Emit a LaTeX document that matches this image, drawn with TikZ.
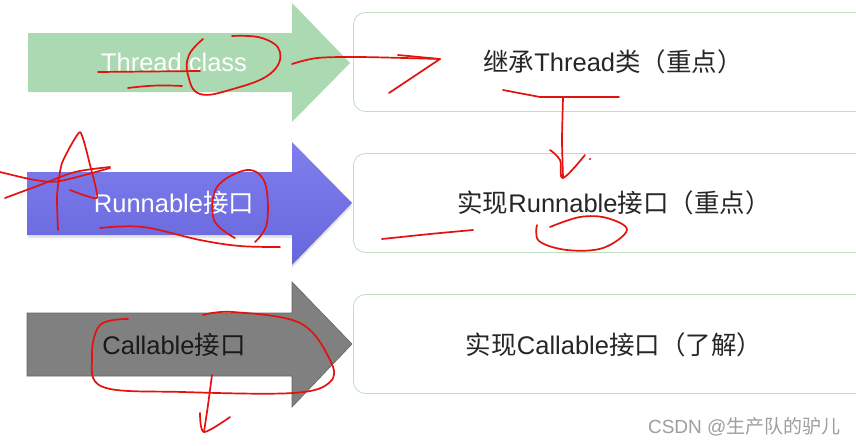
\documentclass[tikz,border=0pt]{standalone}
\usepackage{fontspec}
\setmainfont{Liberation Sans}
\newfontfamily\cjk{Noto Sans CJK SC}
\usetikzlibrary{positioning}

\definecolor{thrgreen}{HTML}{ABD9B1}
\definecolor{runtop}{HTML}{7E7EEE}
\definecolor{runbot}{HTML}{6767DC}
\definecolor{calgray}{HTML}{808080}
\definecolor{boxline}{HTML}{BEDFC3}
\definecolor{inkred}{HTML}{E3120F}

\tikzset{
	infobox/.style={draw=boxline, line width=0.8pt, rounded corners=12pt, fill=white, minimum width=540pt, minimum height=99pt, inner sep=0pt, anchor=west},
	boxtext/.style={font=\fontsize{25.5}{28}\selectfont, text=black!85},
	arrowtext/.style={font=\fontsize{25.5}{28}\selectfont},
	scribble/.style={draw=inkred, line width=1.7pt, line cap=round, line join=round}
}

\begin{document}
\begin{tikzpicture}[x=1pt, y=-1pt]
	\clip (0,0) rectangle (856,445);
	\fill[white] (0,0) rectangle (856,445);
	% the three fat arrows
	\fill[thrgreen] (28,33) -- (292,33) -- (292,3) -- (350,63) -- (292,122) -- (292,92) -- (28,92) -- cycle;
	\fill[black, opacity=0.1] (28,175) -- (292,175) -- (292,145) -- (352,206) -- (292,268) -- (292,238) -- (28,238) -- cycle;
	\shade[top color=runtop, bottom color=runbot] (27,172) -- (292,172) -- (292,142) -- (352,203) -- (292,265) -- (292,235) -- (27,235) -- cycle;
	\filldraw[fill=calgray, draw=black!60, line width=0.6pt] (27,313) -- (292,313) -- (292,282) -- (352,344) -- (292,407) -- (292,376) -- (27,376) -- cycle;
	\node[arrowtext, text=white] (thread) at (174,62) {Thread class};
	\node[arrowtext, text=white] (runnable) at (174,203) {Runnable{\cjk 接口}};
	\node[arrowtext, text=black!90] (callable) at (174,345) {Callable{\cjk 接口}};
	% boxes on the right
	\node[infobox] (box1) at (353,62) {};
	\node[infobox] (box2) at (353,203) {};
	\node[infobox] (box3) at (353,344) {};
	\node[boxtext] (way1) at (613,62) {{\cjk 继承}Thread{\cjk 类（重点）}};
	\node[boxtext] (way2) at (614,203) {{\cjk 实现}Runnable{\cjk 接口（重点）}};
	\node[boxtext] (way3) at (614,345) {{\cjk 实现}Callable{\cjk 接口（了解）}};
	\node[font=\fontsize{19}{22}\selectfont, text=black!38, anchor=east] (mark) at (844,427) {CSDN @{\cjk 生产队的驴儿}};
	% red pen marks
	\draw[scribble] (98,72) -- (200,71);
	\draw[scribble] (128,88) to[bend left=5] (182,86);
	\draw[scribble] plot[smooth, tension=0.7] coordinates {(203,39) (189,55) (188,75) (200,94) (233,89) (270,74) (280,52) (262,38) (232,36)};
	\draw[scribble] plot[smooth, tension=0.5] coordinates {(292,64) (317,58) (360,57) (440,59)};
	\draw[scribble] (398,55) -- (440,59) -- (389,93);
	\draw[scribble] (503,90) -- (540,97) -- (619,97);
	\draw[scribble] plot[smooth, tension=0.4] coordinates {(563,98) (562,140) (563,177)};
	\draw[scribble] plot[smooth, tension=0.6] coordinates {(550,150) (560,160) (563,178) (585,155)};
	\fill[inkred] (590,159) circle (1.2);
	\draw[scribble] plot[smooth, tension=0.5] coordinates {(382,239) (430,234) (473,230)};
	\draw[scribble] plot[smooth, tension=0.6] coordinates {(537,225) (539,241) (567,250) (603,248) (627,230) (607,218) (580,217) (550,227)};
	\draw[scribble] plot[smooth, tension=0.3] coordinates {(58,230) (57,195) (62,163) (80,132) (90,165) (97,198) (70,190)};
	\draw[scribble] plot[smooth, tension=0.5] coordinates {(0,172) (35,180) (60,181) (110,168)};
	\draw[scribble] plot[smooth, tension=0.5] coordinates {(5,198) (40,185) (75,172) (110,167)};
	\draw[scribble] plot[smooth, tension=0.6] coordinates {(100,228) (143,227) (200,240) (240,246) (280,247)};
	\draw[scribble] plot[smooth, tension=0.6] coordinates {(235,238) (214,220) (217,187) (247,170) (265,183) (267,223) (255,242)};
	\draw[scribble] plot[smooth, tension=0.6] coordinates {(128,319) (100,325) (92,357) (103,387) (183,392) (293,393) (330,382) (330,360) (300,323) (233,312) (203,315)};
	\draw[scribble] plot[smooth, tension=0.4] coordinates {(212,375) (208,405) (204,432)};
	\draw[scribble] plot[smooth, tension=0.5] coordinates {(200,413) (204,432) (230,417)};
\end{tikzpicture}
\end{document}
